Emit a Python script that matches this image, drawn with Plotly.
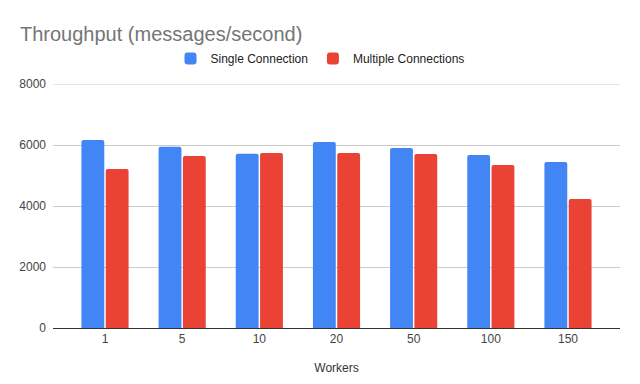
import plotly.graph_objects as go

workers = ["1", "5", "10", "20", "50", "100", "150"]
single_connection = [6160, 5940, 5710, 6100, 5900, 5670, 5440]
multiple_connections = [5215, 5640, 5740, 5740, 5705, 5345, 4230]
y_ticks = [0, 2000, 4000, 6000, 8000]

FONT = "Liberation Sans, Arial, sans-serif"

fig = go.Figure()
fig.add_trace(go.Bar(name="Single Connection", x=workers, y=single_connection,
                     marker=dict(color="#4285F4", line=dict(width=0), cornerradius=2)))
fig.add_trace(go.Bar(name="Multiple Connections", x=workers, y=multiple_connections,
                     marker=dict(color="#EA4335", line=dict(width=0), cornerradius=2)))

# top gridline (at the edge of the value range)
fig.add_shape(type="line", xref="paper", x0=0, x1=1, yref="y", y0=y_ticks[-1], y1=y_ticks[-1],
              line=dict(color="#cccccc", width=1), layer="below")

fig.update_layout(
    width=640, height=384,
    margin=dict(l=53, r=20, t=84, b=56, autoexpand=False),
    paper_bgcolor="white", plot_bgcolor="white",
    font=dict(family=FONT, size=12, color="#222222"),
    title=dict(text="Throughput (messages/second)", x=20/640, xanchor="left", xref="container",
               y=1 - 34/384, yanchor="middle", yref="container",
               font=dict(family=FONT, size=20, color="#757575")),
    barmode="group", bargap=0.37, bargroupgap=0.06,
    showlegend=True,
    legend=dict(orientation="h", xref="container", x=0.5, xanchor="center",
                yref="container", y=1 - 58.5/384, yanchor="middle",
                font=dict(family=FONT, size=12, color="#222222"),
                traceorder="normal", itemclick=False),
    xaxis=dict(type="category", range=[-0.674, 6.674], showgrid=False,
               showline=True, linecolor="#333333", linewidth=1,
               ticks="", tickfont=dict(family=FONT, size=12, color="#444444"),
               title=dict(text="Workers", standoff=18,
                          font=dict(family=FONT, size=12, color="#333333"))),
    yaxis=dict(range=[0, 8000], tickvals=y_ticks, showgrid=True, gridcolor="#cccccc",
               gridwidth=1, zeroline=False, showline=False, ticks="",
               ticklabelstandoff=6,
               tickfont=dict(family=FONT, size=12, color="#444444")),
)

fig.write_html("out.html")
